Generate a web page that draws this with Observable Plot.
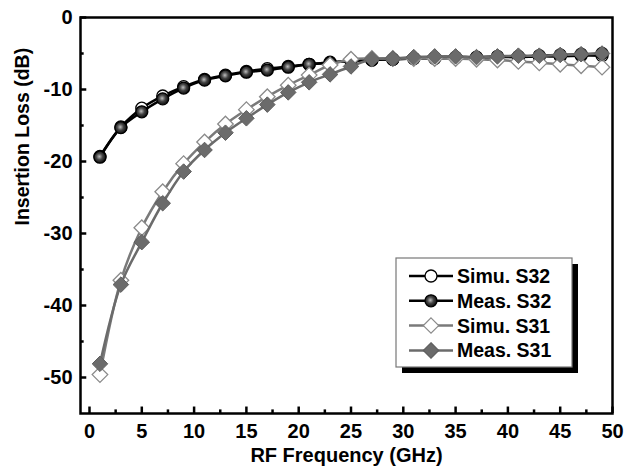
<!DOCTYPE html>
<html>
<head>
<meta charset="utf-8">
<script src="https://cdn.jsdelivr.net/npm/d3@7"></script>
<script src="https://cdn.jsdelivr.net/npm/@observablehq/plot@0.6"></script>
<style>
  html, body { margin: 0; padding: 0; background: #fff; }
  #wrap { position: relative; width: 633px; height: 473px; }
  #legend { position: absolute; left: 0; top: 0; pointer-events: none; }
</style>
</head>
<body>
<div id="wrap"></div>
<script>
const freq = [1,3,5,7,9,11,13,15,17,19,21,23,25,27,29,31,33,35,37,39,41,43,45,47,49];
const simuS32 = [-19.3,-15.2,-12.6,-10.9,-9.6,-8.6,-8.0,-7.5,-7.1,-6.8,-6.5,-6.2,-6.0,-5.9,-5.8,-5.7,-5.7,-5.6,-5.6,-5.5,-5.5,-5.4,-5.4,-5.3,-5.3];
const measS32 = [-19.4,-15.3,-13.1,-11.3,-9.8,-8.7,-8.1,-7.6,-7.3,-6.9,-6.5,-6.3,-6.0,-5.9,-5.8,-5.7,-5.6,-5.5,-5.5,-5.4,-5.4,-5.3,-5.2,-5.1,-5.0];
const simuS31 = [-49.6,-36.5,-29.2,-24.2,-20.3,-17.3,-14.8,-12.8,-11.0,-9.4,-8.0,-6.6,-5.8,-5.7,-5.7,-5.7,-5.7,-5.7,-5.8,-5.9,-6.1,-6.3,-6.5,-6.7,-6.9];
const measS31 = [-48.1,-37.1,-31.2,-25.8,-21.4,-18.4,-16.0,-14.0,-12.1,-10.4,-9.0,-7.9,-6.8,-5.8,-5.7,-5.5,-5.4,-5.4,-5.5,-5.4,-5.3,-5.3,-5.2,-5.1,-5.0];
const seriesNames = ["Simu. S32", "Meas. S32", "Simu. S31", "Meas. S31"];
const xTicks = [0,5,10,15,20,25,30,35,40,45,50];
const xMinor = [2.5,7.5,12.5,17.5,22.5,27.5,32.5,37.5,42.5,47.5];
const yTicks = [0,-10,-20,-30,-40,-50];
const yMinor = [-5,-15,-25,-35,-45];
const xLabel = "RF Frequency (GHz)";
const yLabel = "Insertion Loss (dB)";

const mk = (ys) => freq.map((f, i) => ({x: f, y: ys[i]}));
const dS32s = mk(simuS32), dS32m = mk(measS32), dS31s = mk(simuS31), dS31m = mk(measS31);

const X0 = -0.86, X1 = 50, Y0 = -55, Y1 = 0;
const font = "'Liberation Sans', Arial, sans-serif";
const gray = "#6b6b6b";

const chart = Plot.plot({
  width: 633, height: 473,
  marginLeft: 80, marginRight: 21, marginTop: 17, marginBottom: 60,
  style: {fontFamily: font, fontWeight: "bold", background: "#fff"},
  x: {domain: [X0, X1], axis: null},
  y: {domain: [Y0, Y1], axis: null},
  marks: [
    Plot.frame({stroke: "#000", strokeWidth: 2.5}),
    // inward ticks
    Plot.ruleX(xTicks, {x: d => d, y1: Y0, y2: Y0 + 0.9, stroke: "#000", strokeWidth: 2.5}),
    Plot.ruleX(xMinor, {x: d => d, y1: Y0, y2: Y0 + 0.5, stroke: "#000", strokeWidth: 2.5}),
    Plot.ruleY(yTicks, {y: d => d, x1: X0, x2: X0 + 0.6, stroke: "#000", strokeWidth: 2.5}),
    Plot.ruleY(yMinor, {y: d => d, x1: X0, x2: X0 + 0.35, stroke: "#000", strokeWidth: 2.5}),
    // tick labels
    Plot.text(xTicks, {x: d => d, y: Y0, text: d => String(d), dy: 18, fontSize: 20, fontWeight: "bold", fill: "#000"}),
    Plot.text(yTicks, {x: X0, y: d => d, text: d => String(d), dx: -8, textAnchor: "end", fontSize: 20, fontWeight: "bold", fill: "#000"}),
    // axis titles
    Plot.text([xLabel], {frameAnchor: "bottom", dy: 48, fontSize: 20, fontWeight: "bold", fill: "#000"}),
    Plot.text([yLabel], {frameAnchor: "left", dx: -58, dy: 10, rotate: -90, fontSize: 19.5, fontWeight: "bold", fill: "#000"}),
    // series
    Plot.line(dS32s, {x: "x", y: "y", stroke: "#000", strokeWidth: 2.5, curve: "catmull-rom"}),
    Plot.dot(dS32s, {x: "x", y: "y", r: 6, fill: "#fff", stroke: "#000", strokeWidth: 1.3}),
    Plot.line(dS32m, {x: "x", y: "y", stroke: "#000", strokeWidth: 2.5, curve: "catmull-rom"}),
    Plot.dot(dS32m, {x: "x", y: "y", r: 6, fill: "url(#ball)", stroke: "#000", strokeWidth: 1.3}),
    Plot.line(dS31s, {x: "x", y: "y", stroke: "#7a7a7a", strokeWidth: 2.5, curve: "catmull-rom"}),
    Plot.dot(dS31s, {x: "x", y: "y", r: 7, symbol: "diamond2", fill: "#fff", stroke: "#8a8a8a", strokeWidth: 1.3}),
    Plot.line(dS31m, {x: "x", y: "y", stroke: gray, strokeWidth: 2.5, curve: "catmull-rom"}),
    Plot.dot(dS31m, {x: "x", y: "y", r: 7, symbol: "diamond2", fill: gray, stroke: "#5e5e5e", strokeWidth: 1})
  ]
});

const wrap = document.getElementById("wrap");
wrap.appendChild(chart);

// gradient defs + legend overlay
const ns = "http://www.w3.org/2000/svg";
const leg = d3.select(wrap).append("svg").attr("id", "legend")
  .attr("width", 633).attr("height", 473).attr("xmlns", ns);
const defs = leg.append("defs");
const rg = defs.append("radialGradient").attr("id", "ball").attr("cx", "45%").attr("cy", "45%").attr("r", "60%");
rg.append("stop").attr("offset", "0%").attr("stop-color", "#bdbdbd");
rg.append("stop").attr("offset", "45%").attr("stop-color", "#444");
rg.append("stop").attr("offset", "100%").attr("stop-color", "#000");

const lx = 396, ly = 258, lw = 176, lh = 109;
leg.append("rect").attr("x", lx + 6).attr("y", ly + 6).attr("width", lw).attr("height", lh).attr("fill", "#000");
leg.append("rect").attr("x", lx).attr("y", ly).attr("width", lw).attr("height", lh).attr("fill", "#fff").attr("stroke", "#777").attr("stroke-width", 1.2);

const styles = [
  {line: "#000", shape: "circle", fill: "#fff", stroke: "#000"},
  {line: "#000", shape: "circle", fill: "url(#ball)", stroke: "#000"},
  {line: "#7a7a7a", shape: "diamond", fill: "#fff", stroke: "#8a8a8a"},
  {line: gray, shape: "diamond", fill: gray, stroke: "#5e5e5e"}
];
seriesNames.forEach((name, i) => {
  const cy = 276 + i * 24.8;
  const s = styles[i];
  leg.append("line").attr("x1", 409).attr("x2", 453).attr("y1", cy).attr("y2", cy)
    .attr("stroke", s.line).attr("stroke-width", 2.5);
  if (s.shape === "circle") {
    leg.append("circle").attr("cx", 431).attr("cy", cy).attr("r", 6)
      .attr("fill", s.fill).attr("stroke", s.stroke).attr("stroke-width", 1.3);
  } else {
    leg.append("path").attr("d", d3.symbol(d3.symbolDiamond2, 150)())
      .attr("transform", `translate(431,${cy})`)
      .attr("fill", s.fill).attr("stroke", s.stroke).attr("stroke-width", 1.2);
  }
  leg.append("text").attr("x", 457).attr("y", cy).attr("dy", "0.36em")
    .attr("font-family", font).attr("font-weight", "bold").attr("font-size", 19.5)
    .attr("fill", "#000").text(name);
});
</script>
</body>
</html>
